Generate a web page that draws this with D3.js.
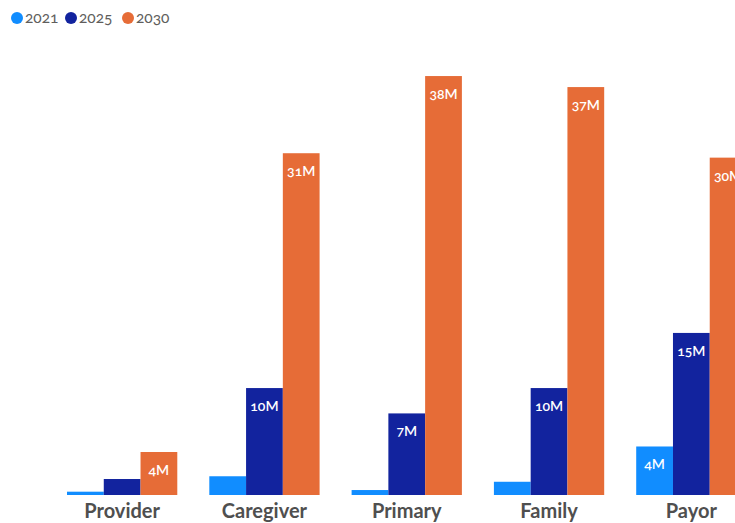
<!DOCTYPE html>
<html>
<head>
<meta charset="utf-8">
<script src="https://cdn.jsdelivr.net/npm/d3@7"></script>
<style>
  html, body { margin: 0; padding: 0; background: #fff; overflow: hidden; }
  svg { display: block; }
</style>
</head>
<body>
<svg id="chart" width="735" height="523"></svg>
<script>
const categories = ["Provider", "Caregiver", "Primary", "Family", "Payor"];
const seriesNames = ["2021", "2025", "2030"];
const colors = ["#118DFF", "#12239E", "#E66C37"];
const values2021 = [0.3, 1.7, 0.45, 1.2, 4.4];
const values2025 = [1.45, 9.7, 7.4, 9.7, 14.7];
const values2030 = [3.9, 31, 38, 37, 30.6];
const labels2021 = ["", "", "", "", "4M"];
const labels2025 = ["", "10M", "7M", "10M", "15M"];
const labels2030 = ["4M", "31M", "38M", "37M", "30M"];
const yTicks = [0, 40];

const seriesValues = [values2021, values2025, values2030];
const seriesLabels = [labels2021, labels2025, labels2030];

const svg = d3.select("#chart");
const baseline = 495;

const x = d3.scaleBand().domain(categories).range([51, 762.5]).paddingInner(0.225).paddingOuter(0.1125);
const xs = d3.scaleBand().domain(seriesNames).range([0, x.bandwidth()]).padding(0);
const y = d3.scaleLinear().domain(yTicks).range([baseline, baseline - 441]);

const data = [];
categories.forEach((c, i) => {
  seriesNames.forEach((s, j) => {
    data.push({cat: c, ser: s, v: seriesValues[j][i], label: seriesLabels[j][i], color: colors[j]});
  });
});

const g = svg.append("g");
g.selectAll("rect").data(data).join("rect")
  .attr("x", d => x(d.cat) + xs(d.ser))
  .attr("width", xs.bandwidth())
  .attr("y", d => y(d.v))
  .attr("height", d => y(0) - y(d.v))
  .attr("fill", d => d.color);

g.selectAll("text.lbl").data(data.filter(d => d.label)).join("text")
  .attr("class", "lbl")
  .attr("x", d => x(d.cat) + xs(d.ser) + xs.bandwidth() / 2)
  .attr("y", d => y(d.v) + 23)
  .attr("text-anchor", "middle")
  .attr("fill", "#fff")
  .style("font-family", "Lato, 'Open Sans', sans-serif")
  .style("font-weight", "600")
  .style("font-size", "14px")
  .style("font-variant-numeric", "oldstyle-nums")
  .text(d => d.label);

// category axis labels
svg.append("g").selectAll("text").data(categories).join("text")
  .attr("x", d => x(d) + x.bandwidth() / 2)
  .attr("y", 518)
  .attr("text-anchor", "middle")
  .attr("fill", "#4F4F4F")
  .style("font-family", "Lato, 'Open Sans', sans-serif")
  .style("font-weight", "bold")
  .style("font-size", "20px")
  .text(d => d);

// legend
const legendX = [17, 71, 128];
const lg = svg.append("g").selectAll("g").data(seriesNames).join("g")
  .attr("transform", (d, i) => `translate(${legendX[i]},18)`);
lg.append("circle").attr("r", 6).attr("fill", (d, i) => colors[i]);
lg.append("text")
  .attr("x", 8)
  .attr("y", 5)
  .attr("fill", "#605E5C")
  .style("font-family", "Lato, 'Open Sans', sans-serif")
  .style("font-size", "15.5px")
  .style("font-variant-numeric", "oldstyle-nums")
  .text(d => d);
</script>
</body>
</html>
